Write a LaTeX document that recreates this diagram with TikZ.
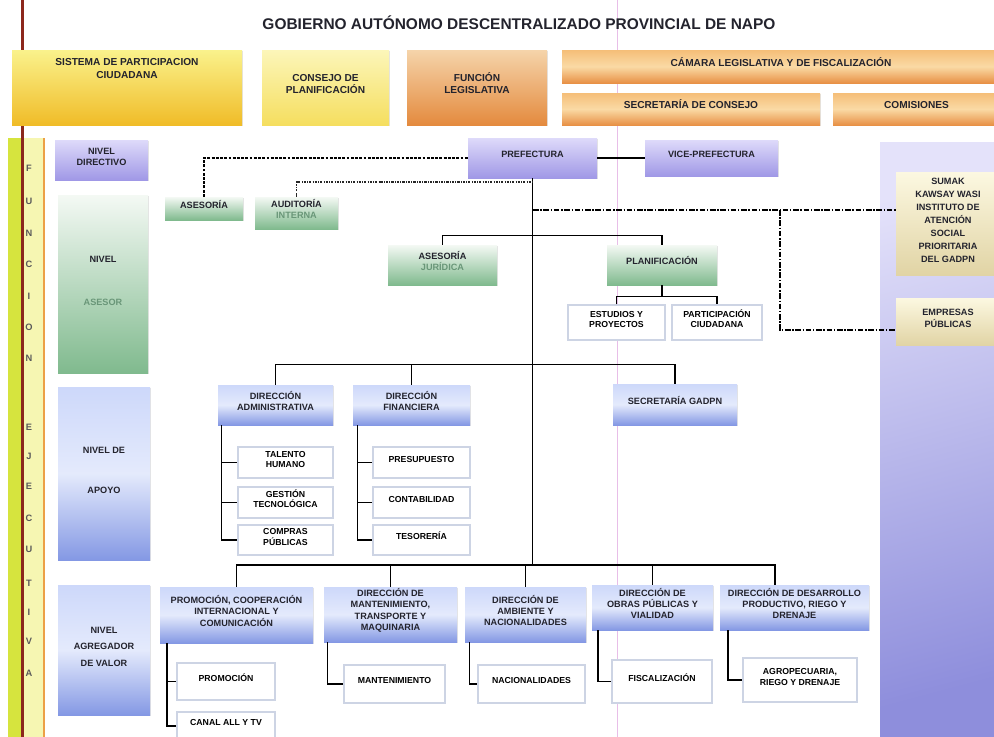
\documentclass[tikz,border=0pt]{standalone}
\usepackage{fontspec}
\setmainfont{Liberation Sans}
\usepackage{xcolor}
\usepackage{tikz}
\usetikzlibrary{shapes, arrows, positioning, fit, shadows}

\definecolor{txtgray}{RGB}{35,35,45}
\definecolor{txtgreen}{RGB}{105,150,120}
\definecolor{ylwtop}{RGB}{250,242,140}
\definecolor{ylwbot}{RGB}{240,188,40}
\definecolor{cnstop}{RGB}{252,246,185}
\definecolor{cnsbot}{RGB}{245,222,95}
\definecolor{orgtop}{RGB}{245,212,170}
\definecolor{orgbot}{RGB}{228,138,62}
\definecolor{camtop}{RGB}{245,190,120}
\definecolor{cammid}{RGB}{250,218,165}
\definecolor{cambot}{RGB}{232,145,70}
\definecolor{prptop}{RGB}{222,218,250}
\definecolor{prpbot}{RGB}{160,152,230}
\definecolor{blutop}{RGB}{205,216,250}
\definecolor{blumid}{RGB}{228,234,252}
\definecolor{blubot}{RGB}{132,152,228}
\definecolor{grntop}{RGB}{244,249,244}
\definecolor{grnbot}{RGB}{128,186,142}
\definecolor{bgetop}{RGB}{252,248,225}
\definecolor{bgebot}{RGB}{225,212,165}
\definecolor{subline}{RGB}{205,212,228}
\definecolor{stripgrn}{RGB}{214,228,62}
\definecolor{stripylw}{RGB}{246,246,178}
\definecolor{striporg}{RGB}{236,160,70}
\definecolor{margin}{RGB}{140,40,28}
\definecolor{fold}{RGB}{232,190,232}
\definecolor{coltop}{RGB}{228,226,250}
\definecolor{colbot}{RGB}{142,142,220}

\begin{document}
\begin{tikzpicture}[x=0.025cm, y=-0.025cm,
    lbl/.style={font=\fontsize{6.5}{8}\selectfont\bfseries, text=txtgray, align=center},
    toprow/.style={font=\fontsize{7.2}{9}\selectfont\bfseries},
    box/.style={lbl, inner sep=0pt, drop shadow={opacity=0.22, shadow xshift=0.7pt, shadow yshift=-0.9pt}},
    ylwbox/.style={box, top color=ylwtop, bottom color=ylwbot},
    cnsbox/.style={box, top color=cnstop, bottom color=cnsbot},
    orgbox/.style={box, top color=orgtop, bottom color=orgbot},
    cambox/.style={box, top color=camtop, bottom color=cambot, middle color=cammid},
    prpbox/.style={box, top color=prptop, bottom color=prpbot},
    blubox/.style={box, top color=blutop, bottom color=blubot, middle color=blumid},
    grnbox/.style={box, top color=grntop, bottom color=grnbot},
    bgebox/.style={box, top color=bgetop, bottom color=bgebot},
    subbox/.style={lbl, font=\fontsize{6.2}{7.4}\selectfont\bfseries, inner sep=0pt, draw=subline, line width=0.8pt, fill=white, text=black},
    conn/.style={draw=black, line width=1.1pt},
    dashline/.style={draw=black, line width=1.2pt, dash pattern=on 2pt off 1pt},
    dotline/.style={draw=black!85, line width=0.9pt, dash pattern=on 1.6pt off 0.9pt on 0.5pt off 0.9pt},
    dashdotline/.style={draw=black, line width=1pt, dash pattern=on 4pt off 1.2pt on 1pt off 1.2pt}]

  \useasboundingbox (0,0) rectangle (994,737);

  % franjas de fondo
  \fill[stripgrn] (8,138) rectangle (22,737);
  \fill[stripylw] (22,138) rectangle (45,737);
  \fill[striporg] (43,138) rectangle (45,737);
  \shade[top color=coltop, bottom color=colbot, shading angle=15] (880,142) rectangle (994,737);
  \draw[margin, line width=1.6pt] (22.5,0) -- (22.5,737);
  \draw[fold, line width=0.5pt] (617,0) -- (617,737);

  \node[font=\fontsize{11}{13}\selectfont\bfseries, text=txtgray] (titulo) at (519,23) {GOBIERNO AUTÓNOMO DESCENTRALIZADO PROVINCIAL DE NAPO};

  % funcion ejecutiva
  \begin{scope}[every node/.style={font=\fontsize{6.6}{7}\selectfont\bfseries, text=black!65}]
    \node (l1) at (29,168) {F};
    \node (l2) at (29,201) {U};
    \node (l3) at (29,233) {N};
    \node (l4) at (29,264) {C};
    \node (l5) at (29,296) {I};
    \node (l6) at (29,327) {O};
    \node (l7) at (29,358) {N};
    \node (l8) at (29,427) {E};
    \node (l9) at (29,456) {J};
    \node (l10) at (29,486) {E};
    \node (l11) at (29,518) {C};
    \node (l12) at (29,549) {U};
    \node (l13) at (29,583) {T};
    \node (l14) at (29,612) {I};
    \node (l15) at (29,641) {V};
    \node (l16) at (29,673) {A};
  \end{scope}

  % fila superior
  \node[ylwbox, toprow, fit={(12,50) (242,125)},
        label={[lbl, toprow, anchor=north, inner sep=0pt, yshift=-6pt]north:{SISTEMA DE PARTICIPACION\\CIUDADANA}}] (sistema) {};
  \node[cnsbox, toprow, fit={(262,50) (389,125)}] (consejo) {CONSEJO DE\\PLANIFICACIÓN};
  \node[orgbox, toprow, fit={(407,50) (547,125)}] (funcion) {FUNCIÓN\\LEGISLATIVA};
  \node[cambox, toprow, fit={(562,50) (1000,83)}] (camara) {CÁMARA LEGISLATIVA Y DE FISCALIZACIÓN};
  \node[cambox, toprow, fit={(562,93) (820,125)}] (secconsejo) {SECRETARÍA DE CONSEJO};
  \node[cambox, toprow, fit={(833,93) (1000,125)}] (comisiones) {COMISIONES};

  % niveles
  \node[prpbox, fit={(55,140) (148,180)}] (ndirectivo) {NIVEL\\DIRECTIVO};
  \node[grnbox, fit={(58,195) (148,373)}] (nasesor) {NIVEL\\[22pt]\textcolor{txtgreen}{ASESOR}};
  \node[blubox, fit={(58,387) (150,560)}] (napoyo) {NIVEL DE\\[20pt]APOYO};
  \node[blubox, fit={(58,585) (150,715)}] (nagregador) {NIVEL\\[4pt]AGREGADOR\\[4pt]DE VALOR};

  % nivel directivo y asesor
  \node[grnbox, fit={(165,197) (243,220)}] (asesoria) {ASESORÍA};
  \node[grnbox, fit={(255,197) (338,229)}] (auditoria) {AUDITORÍA\\\textcolor{txtgreen}{INTERNA}};
  \node[prpbox, fit={(468,138) (597,178)}] (prefectura) {PREFECTURA};
  \node[prpbox, fit={(645,140) (778,176)}] (vice) {VICE-PREFECTURA};
  \node[grnbox, fit={(388,245) (497,285)}] (asjuridica) {ASESORÍA\\\textcolor{txtgreen}{JURÍDICA}};
  \node[grnbox, fit={(607,245) (717,285)}] (planificacion) {PLANIFICACIÓN};
  \node[subbox, fit={(568,305) (665,340)}] (estudios) {ESTUDIOS Y\\PROYECTOS};
  \node[subbox, fit={(672,305) (762,340)}] (participacion) {PARTICIPACIÓN\\CIUDADANA};
  \node[bgebox, font=\fontsize{6.5}{9.2}\selectfont\bfseries, fit={(896,172) (1000,275)}] (sumak) {SUMAK\\KAWSAY WASI\\INSTITUTO DE\\ATENCIÓN\\SOCIAL\\PRIORITARIA\\DEL GADPN};
  \node[bgebox, fit={(896,298) (1000,345)}] (empresas) {EMPRESAS\\PÚBLICAS};

  % nivel de apoyo
  \node[blubox, fit={(218,385) (333,425)}] (diradm) {DIRECCIÓN\\ADMINISTRATIVA};
  \node[blubox, fit={(353,385) (470,425)}] (dirfin) {DIRECCIÓN\\FINANCIERA};
  \node[blubox, fit={(613,384) (737,425)}] (secgadpn) {SECRETARÍA GADPN};
  \node[subbox, fit={(238,447) (333,478)}] (talento) {TALENTO\\HUMANO};
  \node[subbox, fit={(238,487) (333,518)}] (gestion) {GESTIÓN\\TECNOLÓGICA};
  \node[subbox, fit={(238,525) (333,555)}] (compras) {COMPRAS\\PÚBLICAS};
  \node[subbox, fit={(373,447) (470,478)}] (presupuesto) {PRESUPUESTO};
  \node[subbox, fit={(373,487) (470,518)}] (contabilidad) {CONTABILIDAD};
  \node[subbox, fit={(373,525) (470,555)}] (tesoreria) {TESORERÍA};

  % nivel agregador de valor
  \node[blubox, fit={(160,587) (313,643)}] (promocion) {PROMOCIÓN, COOPERACIÓN\\INTERNACIONAL Y\\COMUNICACIÓN};
  \node[blubox, fit={(324,587) (457,642)}] (mantenimiento) {DIRECCIÓN DE\\MANTENIMIENTO,\\TRANSPORTE Y\\MAQUINARIA};
  \node[blubox, fit={(465,587) (586,642)}] (ambiente) {DIRECCIÓN DE\\AMBIENTE Y\\NACIONALIDADES};
  \node[blubox, fit={(592,585) (713,630)}] (obras) {DIRECCIÓN DE\\OBRAS PÚBLICAS Y\\VIALIDAD};
  \node[blubox, fit={(720,585) (869,630)}] (desarrollo) {DIRECCIÓN DE DESARROLLO\\PRODUCTIVO, RIEGO Y\\DRENAJE};
  \node[subbox, fit={(177,663) (275,700)}] (promo) {PROMOCIÓN};
  \node[subbox, fit={(177,712) (275,740)}] (canal) {CANAL ALL Y TV};
  \node[subbox, fit={(344,665) (445,703)}] (mant) {MANTENIMIENTO};
  \node[subbox, fit={(478,665) (585,703)}] (nacion) {NACIONALIDADES};
  \node[subbox, fit={(612,660) (712,703)}] (fiscal) {FISCALIZACIÓN};
  \node[subbox, fit={(743,658) (857,702)}] (agro) {AGROPECUARIA,\\RIEGO Y DRENAJE};

  % conectores
  \coordinate (aj) at (533,182);
  \coordinate (sj) at (533,210);
  \coordinate (ej) at (780,210);
  \coordinate (b3) at (775,565);
  \draw[conn] (prefectura.east) -- (vice.west);
  \draw[conn] (prefectura.south) -- (prefectura.south |- b3);
  \draw[dashline] (asesoria.north) |- (prefectura.west);
  \draw[dotline] (auditoria.north) |- (aj);
  \draw[dashdotline] (sj) -- (sj -| sumak.west);
  \draw[dashdotline] (ej) |- ([yshift=-6pt]empresas.west);
  \draw[conn] (asjuridica.north) -- ++(0,-9) -| (planificacion.north);
  \draw[conn] (planificacion.south) -- ++(0,12);
  \draw[conn] (estudios.north) -- ++(0,-8) -| (participacion.north);
  \draw[conn] (diradm.north) -- ++(0,-20) -| (secgadpn.north);
  \draw[conn] (dirfin.north) -- ++(0,-20);
  \draw[conn] (promocion.north) |- (b3) -- (b3 |- desarrollo.north);
  \draw[conn] (mantenimiento.north) -- (mantenimiento.north |- b3);
  \draw[conn] (ambiente.north) -- (ambiente.north |- b3);
  \draw[conn] (obras.north) -- (obras.north |- b3);

  % ramas de las direcciones
  \coordinate (sadm) at ([xshift=2.8pt]diradm.south west);
  \coordinate (sfin) at ([xshift=3.5pt]dirfin.south west);
  \coordinate (spro) at ([xshift=5pt]promocion.south west);
  \coordinate (sman) at ([xshift=2.8pt]mantenimiento.south west);
  \coordinate (samb) at ([xshift=3.5pt]ambiente.south west);
  \coordinate (sobr) at ([xshift=4.3pt]obras.south west);
  \coordinate (sdes) at ([xshift=5.7pt]desarrollo.south west);
  \draw[conn] (sadm) |- (talento.west) (sadm) |- (gestion.west) (sadm) |- (compras.west);
  \draw[conn] (sfin) |- (presupuesto.west) (sfin) |- (contabilidad.west) (sfin) |- (tesoreria.west);
  \draw[conn] (spro) |- (promo.west) (spro) |- (canal.west);
  \draw[conn] (sman) |- (mant.west);
  \draw[conn] (samb) |- (nacion.west);
  \draw[conn] (sobr) |- (fiscal.west);
  \draw[conn] (sdes) |- (agro.west);
\end{tikzpicture}
\end{document}
